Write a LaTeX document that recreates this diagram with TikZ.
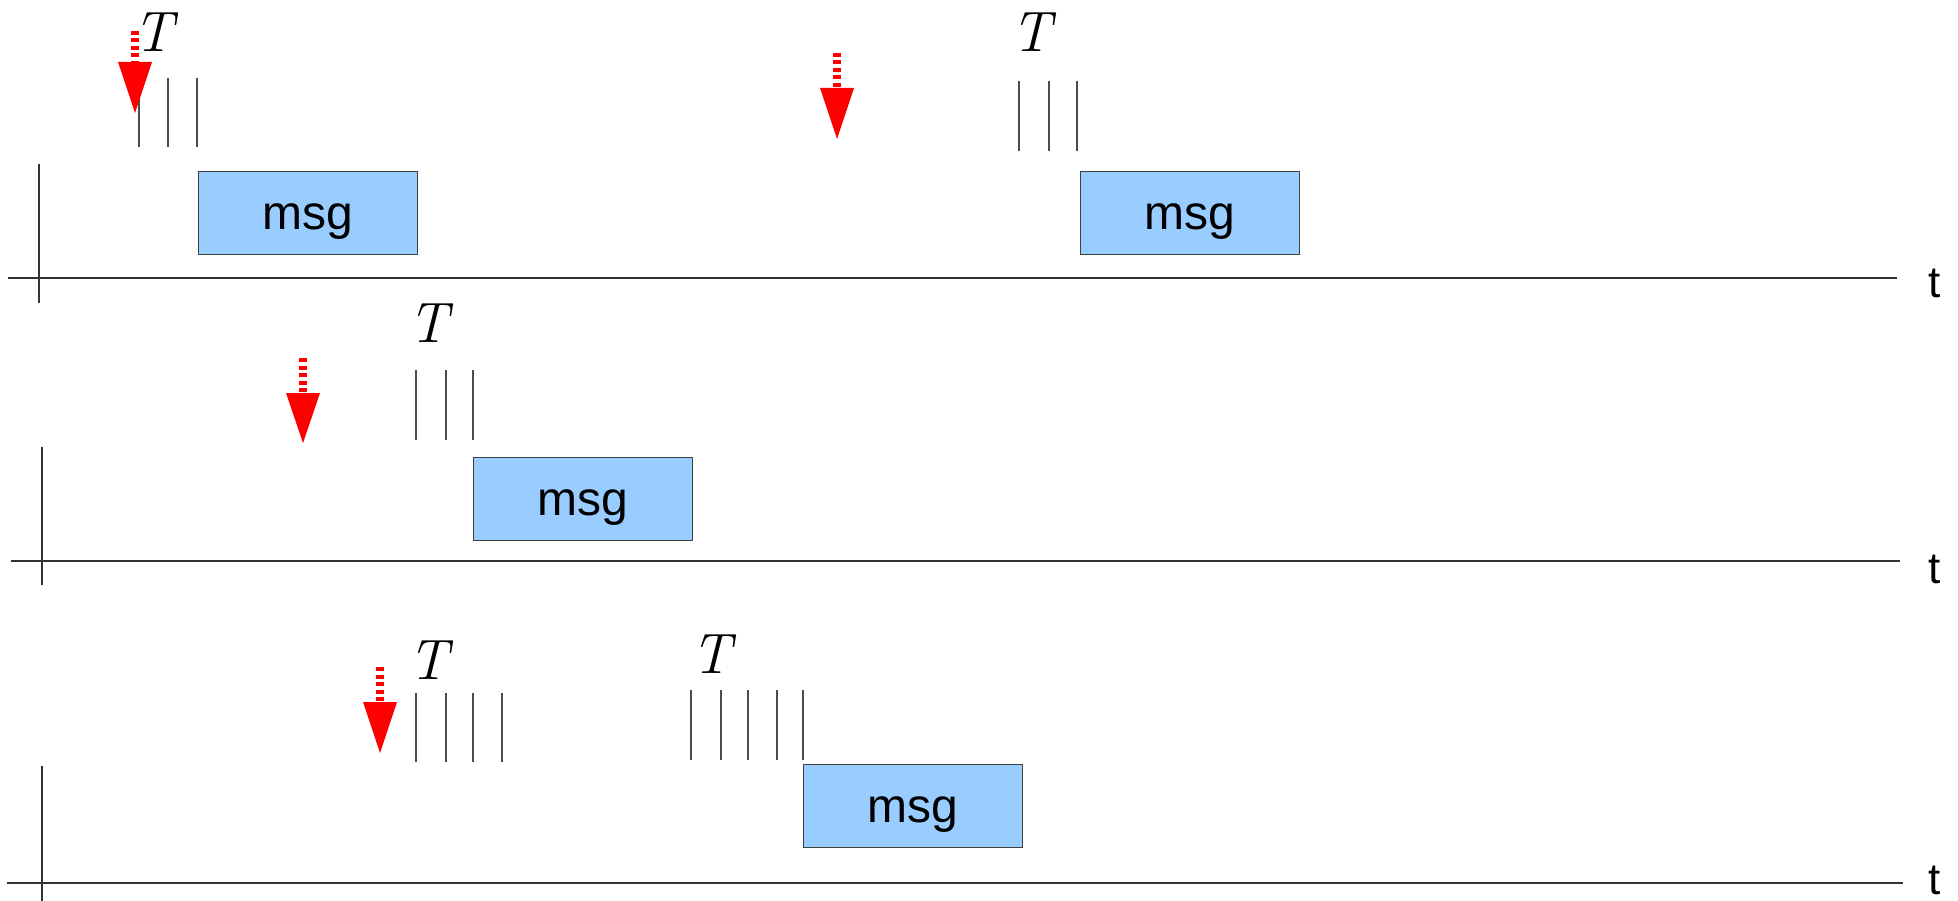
\documentclass[tikz,border=0pt]{standalone}
\usepackage{fontspec}
\setmainfont{Liberation Sans}
\newfontfamily\lmfont{Latin Modern Roman}
\begin{document}
\begin{tikzpicture}[x=1pt,y=-1pt,
  axis/.style={draw=black!80,line width=1.4pt},
  tick/.style={draw=black!70,line width=1.3pt},
  msgbox/.style={draw=black!75,line width=1.3pt,fill={rgb,255:red,153;green,204;blue,255},
    minimum width=219pt,minimum height=83pt,inner sep=0pt,
    text height=40pt,text depth=7pt,
    font=\fontsize{48}{56}\selectfont},
  tlabel/.style={font=\fontsize{57}{60}\selectfont\lmfont\itshape,inner sep=0pt},
  timelabel/.style={font=\fontsize{44}{50}\selectfont,inner sep=0pt,anchor=base},
  redstem/.style={draw=red,line width=8pt,dash pattern=on 4pt off 3.5pt},
  redhead/.style={fill=red}
]
\useasboundingbox (0,0) rectangle (1958,901);

% ---------- axes ----------
\coordinate (a1l) at (8,278);   \coordinate (a1r) at (1897,278);
\coordinate (v1t) at (39,164);  \coordinate (v1b) at (39,303);
\coordinate (a2l) at (11,561);  \coordinate (a2r) at (1900,561);
\coordinate (v2t) at (42,447);  \coordinate (v2b) at (42,585);
\coordinate (a3l) at (7,883);   \coordinate (a3r) at (1903,883);
\coordinate (v3t) at (42,766);  \coordinate (v3b) at (42,901);
\draw[axis] (a1l) -- (a1r);
\draw[axis] (v1t) -- (v1b);
\draw[axis] (a2l) -- (a2r);
\draw[axis] (v2t) -- (v2b);
\draw[axis] (a3l) -- (a3r);
\draw[axis] (v3t) -- (v3b);
\node[timelabel] (t1) at (1935,297) {t};
\node[timelabel] (t2) at (1935,583) {t};
\node[timelabel] (t3) at (1935,894) {t};

% ---------- message boxes ----------
\node[msgbox,anchor=north west] (m1) at (198,171) {msg};
\node[msgbox,anchor=north west] (m2) at (1080,171) {msg};
\node[msgbox,anchor=north west] (m3) at (473,457) {msg};
\node[msgbox,anchor=north west] (m4) at (803,764) {msg};

% ---------- ticks ----------
\foreach \x in {139,168,197} \draw[tick] (\x,78) -- (\x,147);
\foreach \x in {1019,1049,1077} \draw[tick] (\x,81) -- (\x,151);
\foreach \x in {416,446,473} \draw[tick] (\x,370) -- (\x,440);
\foreach \x in {416,446,473,502} \draw[tick] (\x,693) -- (\x,762);
\foreach \x in {691,721,748,777,803} \draw[tick] (\x,690) -- (\x,760);

% ---------- T labels ----------
\node[tlabel] (T1) at (153,32) {T};
\node[tlabel] (T2) at (1031,32) {T};
\node[tlabel] (T3) at (428,323) {T};
\node[tlabel] (T4) at (428,660) {T};
\node[tlabel] (T5) at (711,654) {T};

% ---------- red arrows ----------
% arrow 1
\coordinate (r1s) at (135,31); \coordinate (r1b) at (135,62);
\draw[redstem] (r1s) -- (r1b);
\fill[redhead] ([xshift=-17pt]r1b) -- ([xshift=17pt]r1b) -- ([yshift=-51pt]r1b) -- cycle;
% arrow 2
\coordinate (r2s) at (837,53); \coordinate (r2b) at (837,88);
\draw[redstem] (r2s) -- (r2b);
\fill[redhead] ([xshift=-17pt]r2b) -- ([xshift=17pt]r2b) -- ([yshift=-51pt]r2b) -- cycle;
% arrow 3
\coordinate (r3s) at (303,358); \coordinate (r3b) at (303,393);
\draw[redstem] (r3s) -- (r3b);
\fill[redhead] ([xshift=-17pt]r3b) -- ([xshift=17pt]r3b) -- ([yshift=-50pt]r3b) -- cycle;
% arrow 4
\coordinate (r4s) at (380,667); \coordinate (r4b) at (380,702);
\draw[redstem] (r4s) -- (r4b);
\fill[redhead] ([xshift=-17pt]r4b) -- ([xshift=17pt]r4b) -- ([yshift=-51pt]r4b) -- cycle;
\end{tikzpicture}
\end{document}
